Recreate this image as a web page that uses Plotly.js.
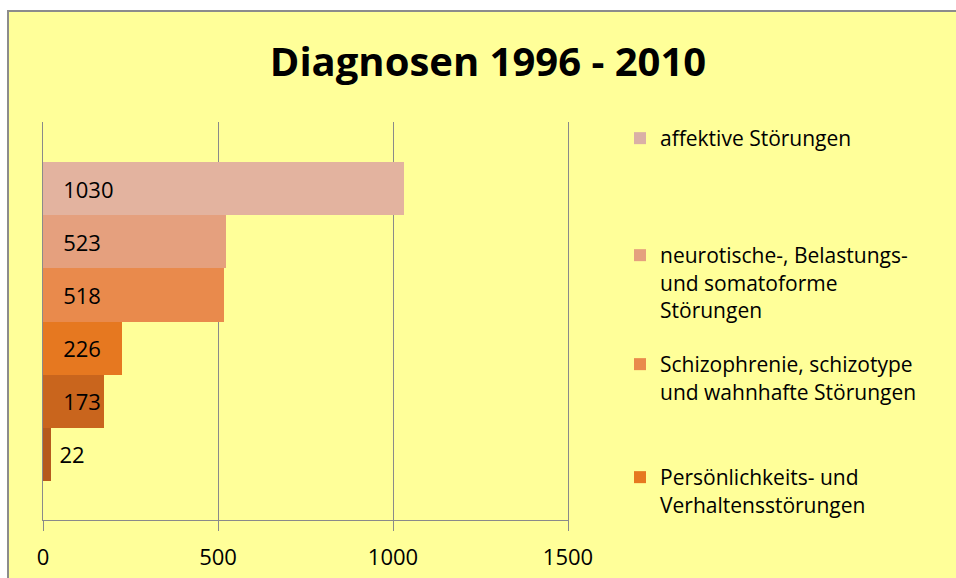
<!DOCTYPE html>
<html>
<head>
<meta charset="utf-8">
<script src="https://cdn.plot.ly/plotly-3.0.1.min.js"></script>
<style>
  body { margin: 0; background: #ffffff; }
  #chart {
    position: absolute; left: 7px; top: 10px;
    width: 947px; height: 566px;
    border-left: 2px solid #8c8c8c; border-top: 2px solid #8c8c8c;
  }
</style>
</head>
<body>
<div id="chart"></div>
<script>
// Diagnosen, von oben nach unten
const diagnoses = [
  "affektive Störungen",
  "neurotische-, Belastungs-<br>und somatoforme<br>Störungen",
  "Schizophrenie, schizotype<br>und wahnhafte Störungen",
  "Persönlichkeits- und<br>Verhaltensstörungen",
  "Diagnose 5",
  "Diagnose 6"
];
const counts = [1030, 523, 518, 226, 173, 22];
const xTicks = [0, 500, 1000, 1500];

const barColors = ["#e3b39f", "#e5a07e", "#e98a4c", "#e67820", "#c9651d", "#b65a1c"];
const legendColors = ["#dab0a6", "#e8a88e", "#e9905e", "#e67c28"];

const W = 947, H = 566;
const cx = px => px / W;
const cy = px => 1 - px / H;
const legendTops = [106, 223, 332, 445];
const legendIds = ["legend", "legend2", "legend3", "legend4"];

const traces = diagnoses.map((name, i) => ({
  type: "bar",
  orientation: "h",
  name: name,
  y: [name],
  x: [counts[i]],
  marker: { color: barColors[i] },
  texttemplate: (i === counts.length - 1 ? "\u00a0" : "\u00a0\u00a0\u00a0") + "%{x}",
  textposition: i === counts.length - 1 ? "outside" : "inside",
  insidetextanchor: "start",
  constraintext: "none",
  cliponaxis: false,
  textfont: { family: "Open Sans", size: 22, color: "#000000" },
  showlegend: i < legendIds.length,
  legend: legendIds[i] || "legend"
}));

const legendBox = i => ({
  x: cx(611), xref: "container", xanchor: "left",
  y: cy(legendTops[i]), yref: "container", yanchor: "top",
  valign: "top",
  bgcolor: "rgba(0,0,0,0)",
  font: { family: "Open Sans", size: 21, color: "#000000" }
});

const layout = {
  width: W, height: H,
  paper_bgcolor: "#ffff99",
  plot_bgcolor: "#ffff99",
  margin: { l: 34, r: 388, t: 110, b: 58 },
  barmode: "stack",
  bargap: 0,
  title: {
    text: "<b>Diagnosen 1996 - 2010</b>",
    x: cx(479), xref: "container", xanchor: "center",
    y: cy(50), yref: "container", yanchor: "middle",
    font: { family: "Open Sans", size: 40, color: "#000000" }
  },
  xaxis: {
    range: [0, 1500],
    tickvals: xTicks,
    showgrid: true, gridcolor: "#8a8a8a", gridwidth: 1,
    zeroline: false,
    showline: true, linecolor: "#8a8a8a", linewidth: 1,
    ticks: "outside", ticklen: 10, tickcolor: "#8a8a8a",
    ticklabelstandoff: 8,
    tickfont: { family: "Open Sans", size: 22, color: "#000000" },
    fixedrange: true
  },
  yaxis: {
    type: "category",
    categoryorder: "array", categoryarray: diagnoses,
    range: [6.233, -1.252],
    showticklabels: false, ticks: "",
    showgrid: false, zeroline: false,
    showline: true, mirror: true, linecolor: "#8a8a8a", linewidth: 1,
    fixedrange: true
  },
  legend: legendBox(0),
  legend2: legendBox(1),
  legend3: legendBox(2),
  legend4: legendBox(3),
  showlegend: true
};

Plotly.newPlot("chart", traces, layout, { staticPlot: true }).then(() => {
  // legend swatches in the original are slightly greyer than the bars
  document.querySelectorAll(".legend").forEach((el, i) => {
    if (legendColors[i]) el.querySelectorAll(".legendpoints path").forEach(p => p.style.fill = legendColors[i]);
  });
});
</script>
</body>
</html>
